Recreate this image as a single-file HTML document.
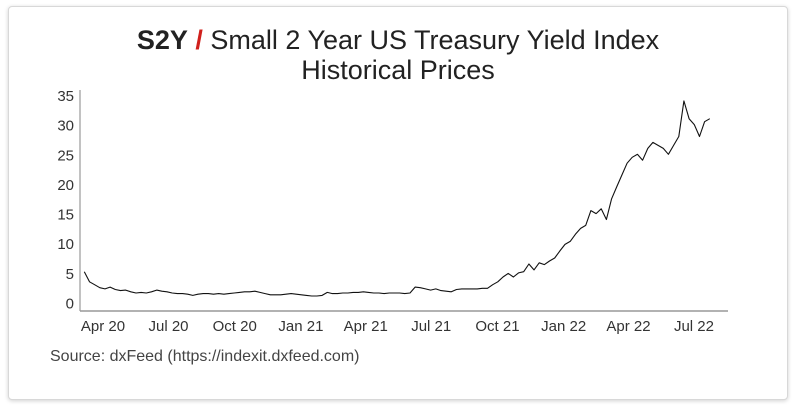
<!DOCTYPE html>
<html><head><meta charset="utf-8"><style>
body{margin:0;background:#fff;width:796px;height:409px;overflow:hidden;font-family:"Liberation Sans",sans-serif}
.card{position:absolute;left:8px;top:6px;width:778px;height:392px;border:1px solid #d8d8d8;border-radius:4px;box-shadow:0 1px 4px rgba(0,0,0,.18);background:#fff}
.title{position:absolute;left:0;width:796px;text-align:center;font-family:"Liberation Sans Narrow","Liberation Sans",sans-serif;font-size:27px;color:#222;line-height:30px}
.src{position:absolute;left:50px;top:348px;font-size:16px;color:#444}
</style></head><body>
<div class="card"></div>
<div class="title" style="top:25px"><b>S2Y</b> <span style="color:#d0201c;font-weight:bold">/</span> Small 2 Year US Treasury Yield Index</div>
<div class="title" style="top:55px">Historical Prices</div>
<svg id="chart" width="796" height="409" style="position:absolute;left:0;top:0"></svg>
<div class="src">Source: dxFeed (https://indexit.dxfeed.com)</div>
<script>
const startDate = "2020-03-06";
const endDate = "2022-07-23";
const values = [5.2,3.5,3.0,2.5,2.3,2.6,2.2,2.0,2.1,1.8,1.6,1.7,1.6,1.8,2.1,1.9,1.8,1.6,1.5,1.5,1.4,1.2,1.4,1.5,1.5,1.4,1.5,1.4,1.5,1.6,1.7,1.8,1.8,1.9,1.7,1.5,1.3,1.3,1.3,1.4,1.5,1.4,1.3,1.2,1.1,1.1,1.2,1.7,1.5,1.5,1.6,1.6,1.7,1.7,1.8,1.7,1.6,1.6,1.5,1.6,1.6,1.6,1.5,1.6,2.6,2.5,2.3,2.1,2.3,2.0,1.9,1.8,2.2,2.3,2.3,2.3,2.3,2.4,2.4,3.0,3.5,4.3,4.9,4.3,5.0,5.2,6.5,5.5,6.7,6.4,7.0,7.5,8.7,9.8,10.3,11.5,12.5,13.0,15.5,15.0,15.8,14.0,17.5,19.5,21.5,23.5,24.5,25.0,24.0,26.0,27.0,26.5,26.0,25.0,26.5,28.0,34.0,31.0,30.0,28.0,30.5,31.0];
const yTicks = [0,5,10,15,20,25,30,35];
const xTickLabels = ["Apr 20","Jul 20","Oct 20","Jan 21","Apr 21","Jul 21","Oct 21","Jan 22","Apr 22","Jul 22"];
const xTickDates = ["2020-04-01","2020-07-01","2020-10-01","2021-01-01","2021-04-01","2021-07-01","2021-10-01","2022-01-01","2022-04-01","2022-07-01"];
const svg=document.getElementById('chart');const NS="http://www.w3.org/2000/svg";
const t0=Date.parse("2020-04-01");
function x(d){return 103+(Date.parse(d)-t0)/86400000*0.7198;}
function xt(ms){return 103+(ms-t0)/86400000*0.7198;}
function y(v){return 302.5-v*(207.5/35);}
function mk(tag,a){const e=document.createElementNS(NS,tag);for(const k in a)e.setAttribute(k,a[k]);svg.appendChild(e);return e;}
let ax=mk('line',{x1:80,y1:90,x2:80,y2:311,stroke:'#999','stroke-width':1.2});


let bx=mk('line',{x1:80,y1:311,x2:728,y2:311,stroke:'#999','stroke-width':1.5});


yTicks.forEach(v=>{const t=mk('text',{x:74,y:y(v)+6,'text-anchor':'end','font-size':15,fill:'#333','font-family':'Liberation Sans Narrow, Liberation Sans, sans-serif'});t.textContent=v;

});
xTickLabels.forEach((l,i)=>{const t=mk('text',{x:x(xTickDates[i]),y:331,'text-anchor':'middle','font-size':15,fill:'#333','font-family':'Liberation Sans Narrow, Liberation Sans, sans-serif'});t.textContent=l;

});
const s0=Date.parse(startDate), s1=Date.parse(endDate);
const step=(s1-s0)/(values.length-1);
const pts=values.map((v,i)=>xt(s0+i*step).toFixed(1)+','+y(v).toFixed(1)).join(' ');
const p=mk('polyline',{points:pts,fill:'none',stroke:'#111','stroke-width':1.1,'stroke-linejoin':'round'});


</script>
</body></html>
